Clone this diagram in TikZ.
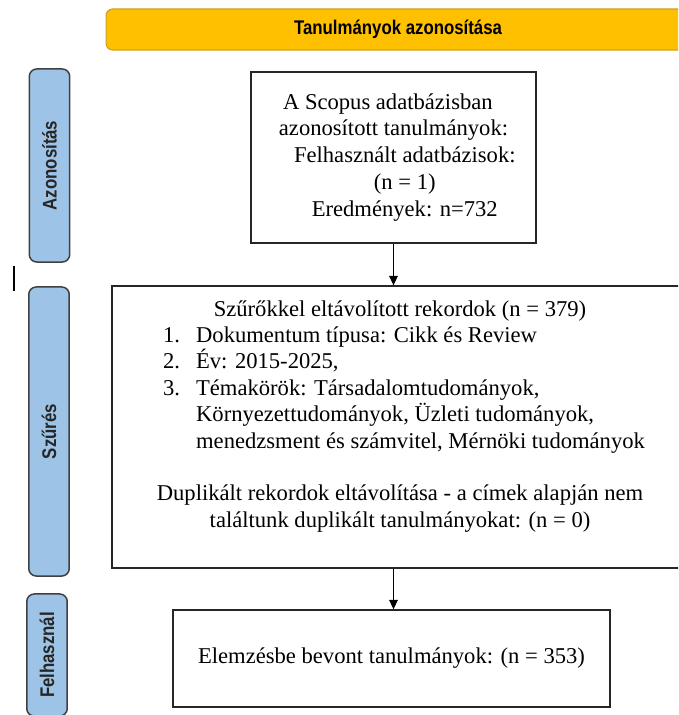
\documentclass[tikz,border=0pt]{standalone}
\usepackage{fontspec}
\setmainfont{Liberation Serif}
\setsansfont{Liberation Sans}
\newfontfamily\narrowsans[FakeStretch=0.85]{Liberation Sans}
\usetikzlibrary{arrows.meta,positioning,calc}

\definecolor{phaseblue}{RGB}{157,195,230}
\definecolor{phaseline}{RGB}{64,64,64}
\definecolor{bannerfill}{RGB}{255,192,0}
\definecolor{bannerline}{RGB}{205,160,40}

% one line of the numbered filter list
\newcommand{\recitem}[2]{\hspace*{9.5pt}\makebox[261pt][l]{\makebox[17.5pt][l]{#1}#2}}

\begin{document}
\begin{tikzpicture}[
    x=0.531pt,y=-0.531pt,
    font=\fontsize{12}{14}\selectfont,
    banner/.style={rounded corners=3.5pt, draw=bannerline, line width=0.6pt, fill=bannerfill, font=\narrowsans\bfseries\fontsize{10.5}{12}\selectfont, minimum width=310pt, minimum height=21.8pt, inner sep=0pt},
    phase/.style={rounded corners=4pt, draw=phaseline, line width=0.8pt, fill=phaseblue, rotate=90, font=\narrowsans\bfseries\fontsize{10.5}{12}\selectfont, text=black!85, minimum height=21.5pt, inner sep=0pt},
    recbox/.style={draw=black!85, line width=0.7pt, align=center, inner sep=0pt},
    flowarrow/.style={-{Triangle[width=4.5pt,length=5pt]}, line width=0.7pt}
  ]
    \useasboundingbox (0,0) rectangle (678,715);
    \clip (0,0) rectangle (678,715);

    % Kopfzeile
    \node[banner] (head) at (398,29.5) {Tanulmányok azonosítása};

    % Phasen links
    \node[phase, minimum width=102.5pt] (azon) at (49.5,165.5) {Azonosítás};
    \node[phase, minimum width=153.5pt] (szur) at (49,431.5) {Szűrés};
    \node[phase, minimum width=64.8pt]  (felh) at (47,655) {Felhasznál};
    \draw[line width=0.8pt] (14,266) -- (14,291);

    % Kästen
    \node[recbox, minimum width=151.3pt, minimum height=90.8pt, font=\fontsize{12}{14.3}\selectfont] (scopus) at (393.5,157.5)
      {\hspace*{-6pt}A Scopus adatbázisban\\
       azonosított tanulmányok:\\
       \hspace*{12pt}Felhasznált adatbázisok:\\
       \hspace*{12pt}(n = 1)\\
       \hspace*{12pt}Eredmények: n=732};

    \node[recbox, minimum width=305.9pt, minimum height=149.7pt] (szures) at (400,427)
      {Szűrőkkel eltávolított rekordok (n = 379)\\
       \recitem{1.}{Dokumentum típusa: Cikk és Review}\\
       \recitem{2.}{Év: 2015-2025,}\\
       \recitem{3.}{Témakörök: Társadalomtudományok,}\\
       \recitem{}{Környezettudományok, Üzleti tudományok,}\\
       \recitem{}{menedzsment és számvitel, Mérnöki tudományok}\\
       \mbox{}\\
       Duplikált rekordok eltávolítása - a címek alapján nem\\
       találtunk duplikált tanulmányokat: (n = 0)\\
       \mbox{}};

    \node[recbox, minimum width=232pt, minimum height=51.5pt] (elemzes) at (391.5,658.5)
      {Elemzésbe bevont tanulmányok: (n = 353)};

    % Pfeile
    \draw[flowarrow] (scopus.south) -- (scopus.south |- szures.north);
    \draw[flowarrow] (scopus.south |- szures.south) -- (scopus.south |- elemzes.north);
  \end{tikzpicture}
\end{document}
